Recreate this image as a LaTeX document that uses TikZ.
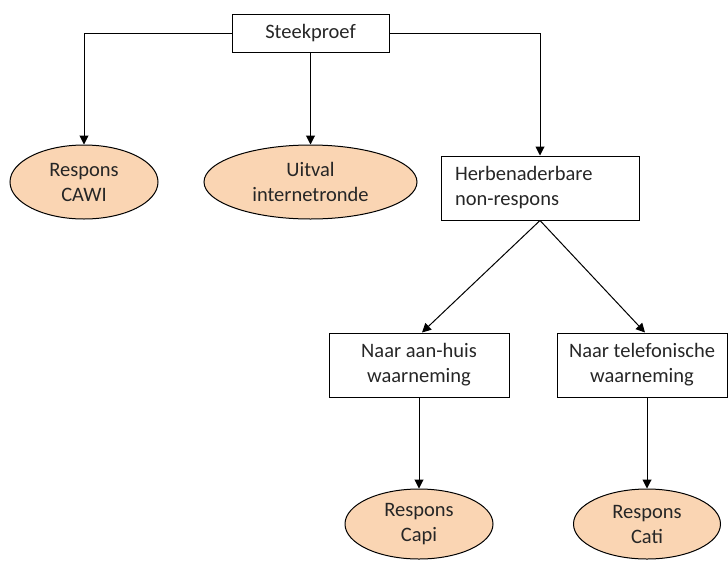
\documentclass[tikz,border=0pt]{standalone}
\usepackage{fontspec}
\setmainfont{Carlito}
\usetikzlibrary{arrows.meta,shapes.geometric}
\definecolor{peach}{HTML}{FAD5B3}
\begin{document}
\begin{tikzpicture}[x=1pt,y=1pt,
  every node/.style={font=\fontsize{20.5}{25}\selectfont, text=black!85, inner sep=0pt},
  box/.style={draw, line width=1pt, rectangle, align=center},
  oval/.style={draw, line width=1pt, ellipse, fill=peach, align=center},
  arr/.style={line width=1pt, -{Triangle[width=9pt,length=9pt]}}]
\useasboundingbox (0,0) rectangle (728,-560);
\node[box, minimum width=157, minimum height=38] (s) at (310.5,-33) {Steekproef};
\node[oval, minimum width=148, minimum height=74] (cawi) at (84,-182) {Respons\\CAWI};
\node[oval, minimum width=213, minimum height=74] (uit) at (310.5,-182) {Uitval\\internetronde};
\node[box, minimum width=198, minimum height=64, text width=170, align=left] (h) at (540,-188) {Herbenaderbare\\non-respons};
\node[box, minimum width=180, minimum height=64] (aan) at (419,-365) {Naar aan-huis\\waarneming};
\node[box, minimum width=170, minimum height=64] (tel) at (642,-365) {Naar telefonische\\waarneming};
\node[oval, minimum width=148, minimum height=70] (capi) at (419,-524) {Respons\\Capi};
\node[oval, minimum width=147, minimum height=70] (cati) at (647,-524) {Respons\\Cati};
\draw[arr] (s.west) -| (cawi.north);
\draw[arr] (s.south) -- (uit.north);
\draw[arr] (s.east) -| (h.north);
\draw[arr] (h.south) -- ([xshift=3]aan.north);
\draw[arr] (h.south) -- ([xshift=3]tel.north);
\draw[arr] (aan.south) -- (capi.north);
\draw[arr] (cati.north |- tel.south) -- (cati.north);
\end{tikzpicture}
\end{document}
